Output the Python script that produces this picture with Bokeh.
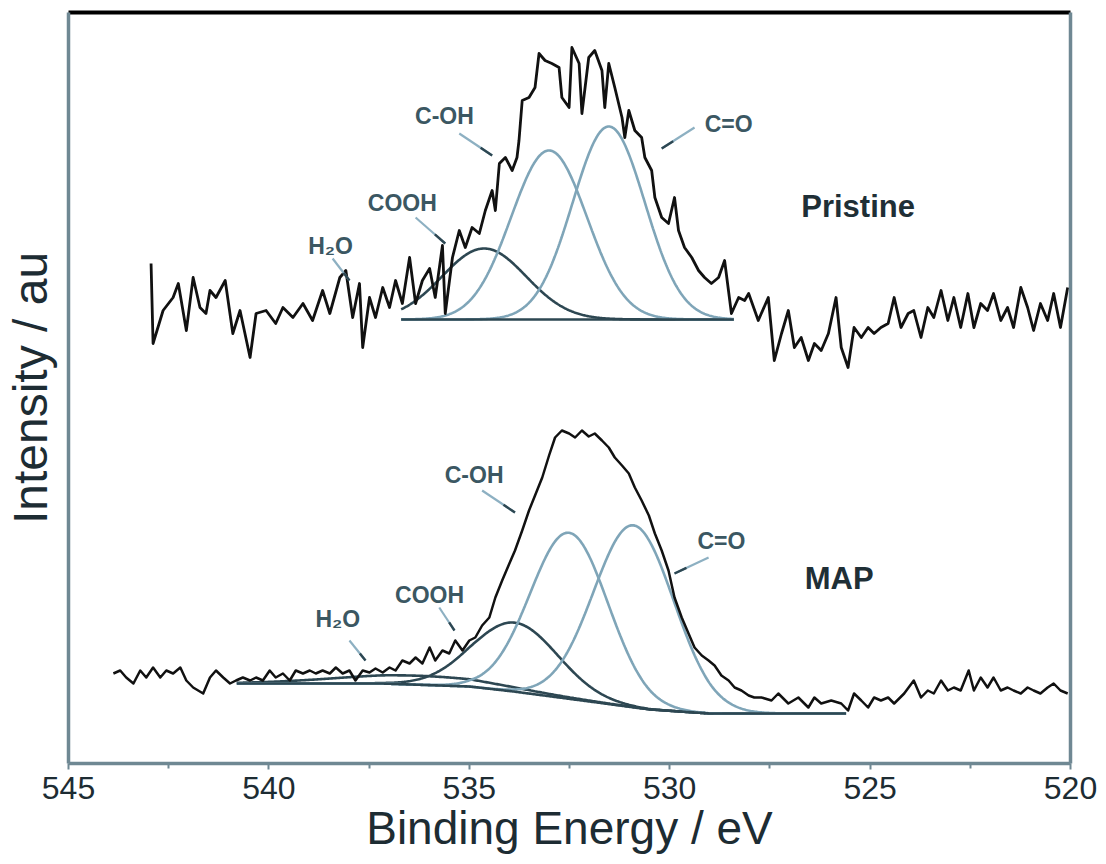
import numpy as np
from bokeh.plotting import figure
from bokeh.models import Range1d, LinearAxis, FixedTicker, Label
from bokeh.embed import file_html
from bokeh.resources import INLINE

# ---------------- data ----------------
x_ticks = [545, 540, 535, 530, 525, 520]
x_minor = [542.5, 537.5, 532.5, 527.5, 522.5]

# Pristine O1s raw spectrum (binding energy / eV, intensity / au)
pr_E = [542.94, 542.89, 542.64, 542.39, 542.26, 542.06, 541.89, 541.72, 541.57, 541.47,
        541.32, 541.09, 540.90, 540.72, 540.47, 540.32, 540.07, 539.83, 539.65, 539.40,
        539.15, 538.91, 538.66, 538.48, 538.23, 538.08, 537.91, 537.74, 537.66, 537.49,
        537.34, 537.16, 536.99, 536.84, 536.67, 536.49, 536.34, 536.17, 535.99, 535.85,
        535.67, 535.60, 535.42, 535.25, 535.10, 534.93, 534.75, 534.60, 534.43, 534.35,
        534.25, 534.10, 533.93, 533.81, 533.76, 533.68, 533.51, 533.36, 533.26, 533.11,
        532.94, 532.76, 532.69, 532.51, 532.44, 532.26, 532.19, 532.02, 531.87, 531.69,
        531.62, 531.52, 531.37, 531.19, 531.12, 531.02, 530.87, 530.70, 530.62, 530.45,
        530.37, 530.20, 530.03, 529.88, 529.78, 529.63, 529.45, 529.28, 529.13, 528.96,
        528.78, 528.63, 528.46, 528.28, 528.13, 528.03, 527.79, 527.54, 527.39, 527.21,
        527.04, 526.89, 526.72, 526.54, 526.39, 526.22, 526.04, 525.85, 525.72, 525.55,
        525.40, 525.22, 525.05, 524.90, 524.73, 524.55, 524.40, 524.23, 524.05, 523.91,
        523.73, 523.56, 523.41, 523.23, 523.06, 522.91, 522.74, 522.56, 522.41, 522.24,
        522.07, 521.92, 521.74, 521.57, 521.42, 521.24, 521.07, 520.92, 520.75, 520.57,
        520.42, 520.25, 520.07]
pr_I = [500, 420, 453, 466, 480, 433, 486, 456, 450, 473,
        466, 483, 430, 453, 406, 450, 453, 440, 456, 446,
        460, 443, 473, 450, 486, 493, 446, 480, 416, 466,
        446, 476, 456, 483, 460, 506, 460, 483, 495, 466,
        518, 450, 506, 533, 516, 536, 530, 553, 573, 553,
        600, 606, 593, 606, 623, 663, 666, 676, 710, 703,
        700, 696, 666, 656, 716, 700, 650, 706, 713, 693,
        656, 700, 676, 646, 626, 653, 633, 626, 606, 593,
        566, 546, 540, 566, 533, 516, 506, 493, 486, 480,
        486, 503, 450, 466, 463, 470, 443, 466, 403, 430,
        453, 416, 426, 403, 420, 413, 430, 466, 416, 396,
        436, 426, 436, 430, 436, 440, 466, 436, 450, 453,
        426, 456, 446, 473, 443, 466, 436, 470, 436, 460,
        453, 470, 443, 456, 436, 476, 456, 433, 460, 443,
        470, 436, 476]

# MAP O1s raw spectrum
map_E = [543.88, 543.71, 543.56, 543.38, 543.21, 543.06, 542.89, 542.71, 542.56, 542.39,
         542.21, 542.06, 541.89, 541.64, 541.47, 541.32, 541.14, 540.97, 540.82, 540.65,
         540.47, 540.32, 540.15, 539.98, 539.83, 539.65, 539.48, 539.33, 539.15, 538.98,
         538.83, 538.66, 538.48, 538.33, 538.16, 537.99, 537.84, 537.66, 537.49, 537.34,
         537.16, 536.99, 536.84, 536.67, 536.49, 536.34, 536.17, 535.99, 535.85, 535.67,
         535.50, 535.35, 535.17, 535.00, 534.85, 534.68, 534.50, 534.35, 534.18, 534.00,
         533.86, 533.68, 533.51, 533.36, 533.18, 533.01, 532.86, 532.69, 532.51, 532.36,
         532.19, 532.02, 531.87, 531.69, 531.52, 531.37, 531.19, 531.02, 530.87, 530.70,
         530.52, 530.37, 530.20, 530.03, 529.88, 529.70, 529.53, 529.38, 529.20, 529.03,
         528.88, 528.71, 528.53, 528.38, 528.21, 528.03, 527.89, 527.71, 527.46, 527.29,
         527.04, 526.79, 526.54, 526.39, 526.22, 525.97, 525.72, 525.55, 525.40, 525.22,
         525.05, 524.90, 524.73, 524.55, 524.40, 524.15, 523.91, 523.73, 523.56, 523.41,
         523.23, 523.06, 522.91, 522.74, 522.54, 522.41, 522.24, 522.07, 521.92, 521.74,
         521.57, 521.42, 521.24, 521.07, 520.92, 520.75, 520.57, 520.42, 520.25, 520.07]
map_I = [90, 93, 86, 80, 93, 86, 96, 86, 93, 90,
         96, 83, 76, 70, 86, 93, 86, 80, 83, 86,
         83, 86, 83, 93, 86, 90, 83, 93, 90, 93,
         90, 93, 90, 96, 90, 93, 83, 93, 91, 95,
         91, 96, 93, 103, 100, 106, 100, 116, 103, 113,
         110, 123, 113, 123, 126, 138, 146, 166, 183, 200,
         213, 233, 253, 268, 286, 308, 326, 333, 330, 326,
         333, 327, 330, 323, 316, 306, 298, 290, 276, 263,
         248, 230, 213, 193, 166, 146, 130, 116, 108, 103,
         98, 88, 83, 76, 73, 68, 66, 66, 63, 70,
         60, 66, 56, 66, 60, 63, 60, 53, 70, 63,
         56, 66, 63, 66, 60, 70, 83, 66, 73, 70,
         83, 73, 76, 73, 93, 73, 86, 76, 86, 73,
         76, 73, 70, 76, 73, 70, 76, 80, 73, 70]

# Fitted components (Gaussian peaks on a background)
pr_names = ["COOH", "C-OH", "C=O"]
pr_center = [534.63, 533.01, 531.52]
pr_height = [71, 169, 193]
pr_sigma = [1.05, 0.945, 0.90]
pr_kind = ["dark", "blue", "blue"]
pr_bg_range = [536.7, 528.4]
pr_bg_level = 444

map_names = ["H2O", "COOH", "C-OH", "C=O"]
map_center = [536.3, 533.86, 532.51, 530.90]
map_height = [9, 69, 166, 182]
map_sigma = [2.0, 1.07, 0.97, 1.0]
map_kind = ["dark", "dark", "blue", "blue"]
map_bg_E = [540.8, 537.2, 535.0, 533.9, 532.0, 530.5, 529.0, 525.6]
map_bg_I = [80, 80, 77, 72, 62, 54, 50, 50]

# Annotations: label text, position, leader line start/end
pr_lab_text = ["C-OH", "COOH", "H\u2082O", "C=O"]
pr_lab_E = [535.62, 536.67, 538.46, 528.53]
pr_lab_I = [648, 561, 518, 640]
pr_lead_E0 = [535.25, 536.34, 538.41, 529.38]
pr_lead_I0 = [630, 546, 505, 636]
pr_lead_E1 = [534.43, 535.60, 537.99, 530.20]
pr_lead_I1 = [608, 520, 483, 615]

map_lab_text = ["C-OH", "COOH", "H\u2082O", "C=O"]
map_lab_E = [534.88, 535.99, 538.28, 528.71]
map_lab_I = [289, 169, 145, 223]
map_lead_E0 = [534.68, 535.75, 537.99, 529.03]
map_lead_I0 = [273, 156, 123, 206]
map_lead_E1 = [533.86, 535.37, 537.59, 529.88]
map_lead_I1 = [251, 133, 103, 190]

sample_text = ["Pristine", "MAP"]
sample_E = [525.30, 525.77]
sample_I = [557, 185]

# ---------------- style ----------------
FONT = "Liberation Sans"
BLUE = "#7fa5b8"
DARK = "#2d4752"
AXIS = "#6f8893"
LEAD = "#8db0c2"
LABC = "#3b5762"
TXT = "#1d2c33"

p = figure(width=1100, height=864, x_range=Range1d(545, 520), y_range=Range1d(0, 751),
           output_backend="svg", toolbar_location=None,
           min_border_left=65, min_border_right=30, min_border_top=12, min_border_bottom=101)
p.outline_line_color = None
p.grid.visible = False

xa = p.xaxis[0]
xa.ticker = FixedTicker(ticks=x_ticks, minor_ticks=x_minor)
xa.axis_label = "Binding Energy / eV"
xa.axis_label_text_font = FONT
xa.axis_label_text_font_size = "46px"
xa.axis_label_text_font_style = "normal"
xa.axis_label_text_color = TXT
xa.axis_label_standoff = 0
xa.major_label_text_font = FONT
xa.major_label_text_font_size = "32px"
xa.major_label_text_color = TXT
xa.major_label_standoff = 7
xa.axis_line_color = AXIS
xa.axis_line_width = 3.5
xa.major_tick_line_color = AXIS
xa.minor_tick_line_color = AXIS
xa.major_tick_line_width = 2
xa.minor_tick_line_width = 2
xa.major_tick_in = 0
xa.major_tick_out = 6
xa.minor_tick_in = 0
xa.minor_tick_out = 5

ya = p.yaxis[0]
ya.ticker = FixedTicker(ticks=[])
ya.minor_tick_line_color = None
ya.major_tick_line_color = None
ya.major_label_text_font_size = "0px"
ya.axis_label = "Intensity / au"
ya.axis_label_text_font = FONT
ya.axis_label_text_font_size = "48px"
ya.axis_label_text_font_style = "normal"
ya.axis_label_text_color = TXT
ya.axis_label_standoff = 12
ya.axis_line_color = AXIS
ya.axis_line_width = 3.5

ra = LinearAxis(ticker=FixedTicker(ticks=[]), major_label_text_font_size="0px",
                axis_line_color=AXIS, axis_line_width=3.5,
                major_tick_line_color=None, minor_tick_line_color=None)
p.add_layout(ra, "right")
ta = LinearAxis(ticker=FixedTicker(ticks=[]), major_label_text_font_size="0px",
                axis_line_color="black", axis_line_width=4,
                major_tick_line_color=None, minor_tick_line_color=None)
p.add_layout(ta, "above")

# ---------------- fitted components ----------------
def comp_color(kind):
    return BLUE if kind == "blue" else DARK

# pristine: flat background + peaks
e_pr = np.linspace(pr_bg_range[0], pr_bg_range[1], 400)
bg_pr = np.full_like(e_pr, pr_bg_level, dtype=float)
for c, h, s, k in zip(pr_center, pr_height, pr_sigma, pr_kind):
    yv = bg_pr + h * np.exp(-0.5 * ((e_pr - c) / s) ** 2)
    p.line(e_pr, yv, line_color=comp_color(k), line_width=2.6)
p.line(e_pr, bg_pr, line_color=DARK, line_width=2.6)

# MAP: sloping background + peaks
e_map = np.linspace(map_bg_E[0], map_bg_E[-1], 500)
bg_map = np.interp(e_map[::-1], map_bg_E[::-1], map_bg_I[::-1])[::-1]
for c, h, s, k in zip(map_center, map_height, map_sigma, map_kind):
    yv = bg_map + h * np.exp(-0.5 * ((e_map - c) / s) ** 2)
    p.line(e_map, yv, line_color=comp_color(k), line_width=2.6)
p.line(e_map, bg_map, line_color=DARK, line_width=2.6)

# ---------------- raw spectra ----------------
p.line(pr_E, pr_I, line_color="#111111", line_width=2.8, line_join="round")
p.line(map_E, map_I, line_color="#111111", line_width=2.5, line_join="round")

# ---------------- annotations ----------------
for E0, I0, E1, I1 in ((pr_lead_E0, pr_lead_I0, pr_lead_E1, pr_lead_I1),
                       (map_lead_E0, map_lead_I0, map_lead_E1, map_lead_I1)):
    p.segment(E0, I0, E1, I1, line_color=LEAD, line_width=2.2)
    # darker tip near the curve end of each leader
    tE = [a + 0.65 * (b - a) for a, b in zip(E0, E1)]
    tI = [a + 0.65 * (b - a) for a, b in zip(I0, I1)]
    p.segment(tE, tI, E1, I1, line_color=DARK, line_width=2.4)

for t, e, i in list(zip(pr_lab_text, pr_lab_E, pr_lab_I)) + list(zip(map_lab_text, map_lab_E, map_lab_I)):
    p.add_layout(Label(x=e, y=i, text=t, text_align="center", text_baseline="middle",
                       text_font=FONT, text_font_size="23px", text_font_style="bold",
                       text_color=LABC))

for t, e, i in zip(sample_text, sample_E, sample_I):
    p.add_layout(Label(x=e, y=i, text=t, text_align="center", text_baseline="middle",
                       text_font=FONT, text_font_size="31px", text_font_style="bold",
                       text_color="#1f2f36"))

open("out.html", "w").write(file_html(p, INLINE))
